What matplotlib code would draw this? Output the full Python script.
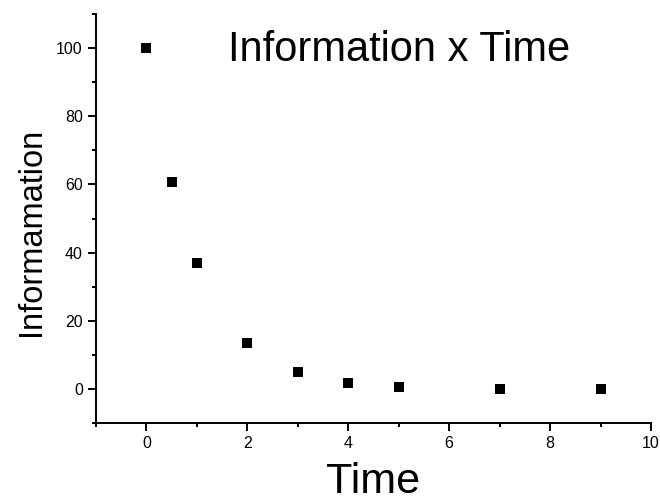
import matplotlib
matplotlib.use('Agg')
import matplotlib.pyplot as plt
from matplotlib.ticker import MultipleLocator

# data
time = [0, 0.5, 1, 2, 3, 4, 5, 7, 9]
information = [100, 60.6, 36.8, 13.5, 5.0, 1.8, 0.7, 0.1, 0.0]
title_text = "Information x Time"
x_label = "Time"
y_label = "Informamation"

plt.rcParams['font.family'] = ['Liberation Sans', 'DejaVu Sans']

fig = plt.figure(figsize=(6.6, 5.04), dpi=100)
ax = fig.add_axes([96 / 660, 1 - 423 / 504, 555 / 660, 409 / 504])

ax.plot(time, information, linestyle='none', marker='s', markersize=6.5,
        color='black', markeredgewidth=0)

ax.set_xlim(-1, 10)
ax.set_ylim(-10, 110)
ax.xaxis.set_major_locator(MultipleLocator(2))
ax.xaxis.set_minor_locator(MultipleLocator(1))
ax.yaxis.set_major_locator(MultipleLocator(20))
ax.yaxis.set_minor_locator(MultipleLocator(10))

for side in ['top', 'right']:
    ax.spines[side].set_visible(False)
for side in ['left', 'bottom']:
    ax.spines[side].set_linewidth(1.4)

ax.tick_params(which='major', direction='out', length=6, width=1.4,
               labelsize=11.5, pad=3.5, colors='black')
ax.tick_params(which='minor', direction='out', length=3, width=1.4)

# labels sit low, as in the reference; keep the descent inside the canvas
ax.set_xlabel(x_label, fontsize=31, va='baseline')
ax.xaxis.set_label_coords(0.5, -0.172)
ax.set_ylabel(y_label, fontsize=23.5, va='baseline')
ax.yaxis.set_label_coords(-0.101, 0.467)

ax.text(5.0, 96.2, title_text, fontsize=30, ha='center', va='baseline')

fig.savefig('out.png', dpi=100)
